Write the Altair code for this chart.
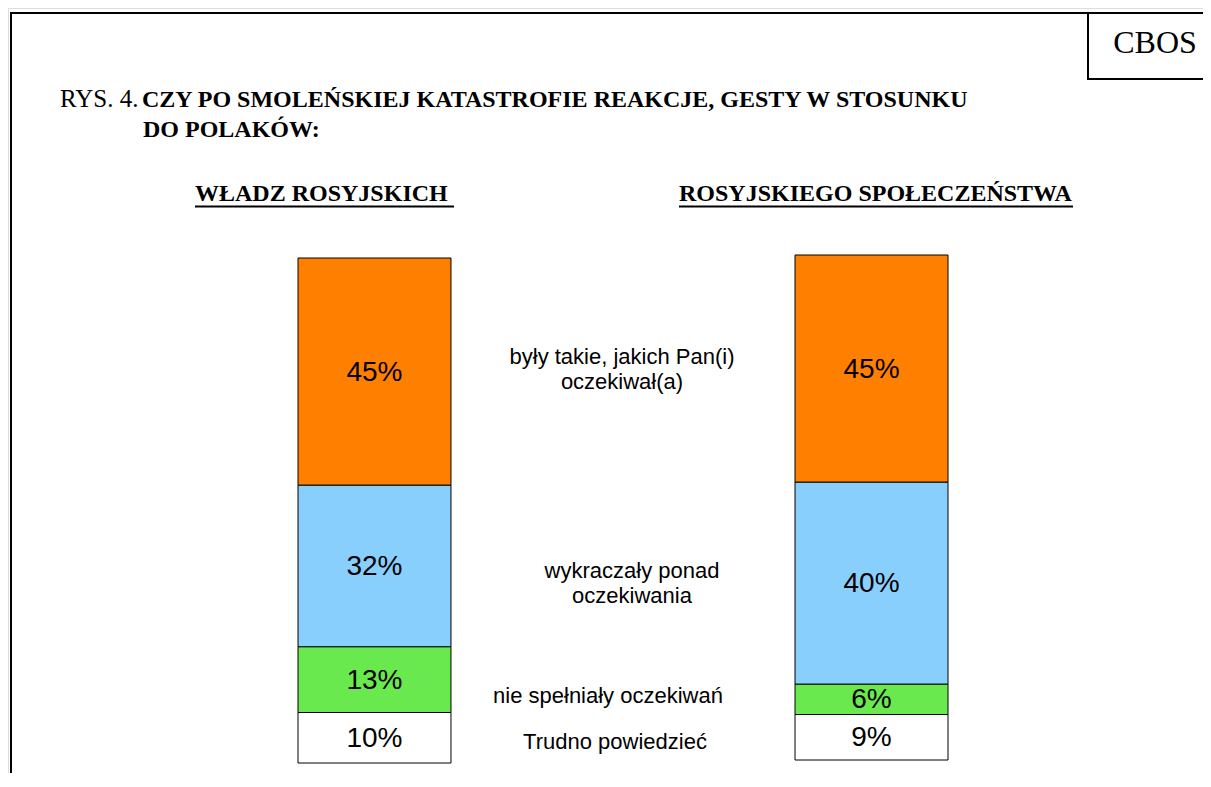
import altair as alt
import pandas as pd

# ---- data ----
groups = ["WŁADZ ROSYJSKICH", "ROSYJSKIEGO SPOŁECZEŃSTWA"]
categories = [
    "były takie, jakich Pan(i) oczekiwał(a)",
    "wykraczały ponad oczekiwania",
    "nie spełniały oczekiwań",
    "Trudno powiedzieć",
]
label_lines = [
    ["były takie, jakich Pan(i)", "oczekiwał(a)"],
    ["wykraczały ponad", "oczekiwania"],
    ["nie spełniały oczekiwań"],
    ["Trudno powiedzieć"],
]
values_wladz = [45, 32, 13, 10]
values_spol = [45, 40, 6, 9]
colors = ["#FF8000", "#88CFFD", "#6AE94F", "#FFFFFF"]
title_prefix = "RYS. 4."
title_line1 = "CZY PO SMOLEŃSKIEJ KATASTROFIE REAKCJE, GESTY W STOSUNKU"
title_line2 = "DO POLAKÓW:"
brand = "CBOS"

rows = []
for g, vals in zip(groups, [values_wladz, values_spol]):
    for i, (c, v) in enumerate(zip(categories, vals)):
        rows.append({"group": g, "cat": c, "value": v,
                     "rank": len(categories) - 1 - i, "label": f"{v}%"})
df = pd.DataFrame(rows)

# ---- layout (chart pixel coordinates) ----
W, H = 1195, 765
SERIF = "Liberation Serif"
SANS = "Liberation Sans"
one = pd.DataFrame({"k": [0]})

xscale = alt.Scale(domain=groups, range=[290, 940], paddingInner=0.6922, paddingOuter=0)
yscale = alt.Scale(domain=[0, 100], range=[755, 250])

base = alt.Chart(df).transform_stack(
    stack="value", as_=["y0", "y1"], groupby=["group"],
    sort=[alt.SortField("rank", order="ascending")]
).transform_calculate(mid="(datum.y0 + datum.y1) / 2")

bar_layers = []
for g, off in zip(groups, [0, -3]):
    b = base.transform_filter(alt.datum.group == g)
    bars = b.mark_bar(stroke="black", strokeWidth=1, yOffset=off, y2Offset=off).encode(
        x=alt.X("group:N", scale=xscale, axis=None),
        y=alt.Y("y0:Q", scale=yscale, axis=None),
        y2="y1:Q",
        color=alt.Color("cat:N", scale=alt.Scale(domain=categories, range=colors), legend=None),
    )
    txt = b.mark_text(font=SANS, fontSize=28, color="black", baseline="middle",
                      align="center", dy=off + 1).encode(
        x=alt.X("group:N", scale=xscale, axis=None),
        y=alt.Y("mid:Q", scale=yscale, axis=None),
        text="label:N",
    )
    bar_layers += [bars, txt]

# middle category labels
mid_pos = [(614, 361), (624, 575), (600, 688), (607, 734)]
mid_layers = []
for lines, (px, py) in zip(label_lines, mid_pos):
    dy = -(len(lines) - 1) * 25 / 2
    mid_layers.append(
        alt.Chart(one).mark_text(text=lines if len(lines) > 1 else lines[0], font=SANS, fontSize=22,
                                 lineHeight=25, align="center", baseline="middle", dy=dy,
                                 color="black").encode(x=alt.value(px), y=alt.value(py))
    )

# frame and brand box
def hrule(x1, x2, y, w=2):
    return alt.Chart(one).mark_rule(color="black", strokeWidth=w).encode(
        x=alt.value(x1), x2=alt.value(x2), y=alt.value(y))

def vrule(x, y1, y2, w=2):
    return alt.Chart(one).mark_rule(color="black", strokeWidth=w).encode(
        x=alt.value(x), y=alt.value(y1), y2=alt.value(y2))

def text(t, x, y, size, bold=False, font=SERIF, align="left"):
    return alt.Chart(one).mark_text(text=t, font=font, fontSize=size,
                                    fontWeight="bold" if bold else "normal",
                                    align=align, baseline="alphabetic", color="black").encode(
        x=alt.value(x), y=alt.value(y))

deco = [
    hrule(2, W, 5),
    vrule(3, 4, H),
    vrule(1080, 5, 71),
    hrule(1079, W, 71),
    text(brand, 1147, 45, 32, align="center"),
    text(title_prefix, 52, 99, 25),
    text(title_line1, 134, 99, 24, bold=True),
    text(title_line2, 135, 129, 24, bold=True),
    text(groups[0], 187, 193, 24, bold=True),
    text(groups[1], 671, 193, 24, bold=True),
    hrule(187, 446, 198.5, 2),
    hrule(671, 1065, 198.5, 2),
]

chart = alt.layer(*deco, *bar_layers, *mid_layers).properties(
    width=W, height=H, padding=0, autosize=alt.AutoSizeParams(type="none")
).configure_view(stroke=None).configure(background="white")

chart.save("out.html", embed_options={"renderer": "svg", "actions": False})
